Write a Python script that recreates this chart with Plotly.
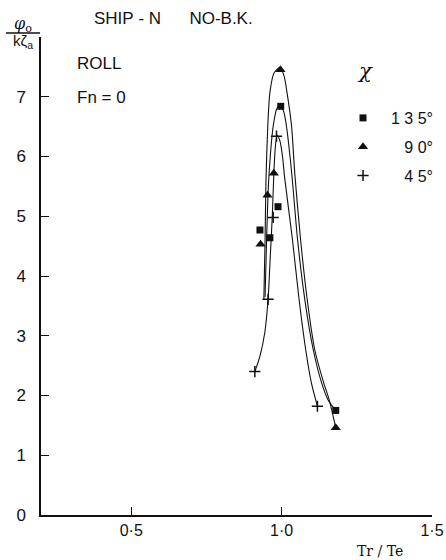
import plotly.graph_objects as go

# Measured response points: tuning factor Tr/Te vs non-dimensional roll amplitude
chi_labels = ["135°", "90°", "45°"]

x_135 = [0.928, 0.961, 0.988, 0.997, 1.180]
y_135 = [4.77, 4.64, 5.16, 6.84, 1.75]

x_90 = [0.930, 0.953, 0.974, 0.996, 1.180]
y_90 = [4.53, 5.35, 5.72, 7.45, 1.46]

x_45 = [0.911, 0.955, 0.972, 0.983, 1.119]
y_45 = [2.40, 3.61, 4.98, 6.34, 1.82]

# Faired curves drawn through the data (knots)
fair_x_135 = [0.945, 0.950, 0.956, 0.963, 0.972, 0.984, 0.996, 1.007, 1.016, 1.034, 1.053,
              1.077, 1.105, 1.133, 1.154, 1.180]
fair_y_135 = [3.65, 4.60, 5.50, 6.05, 6.51, 6.80, 6.86, 6.75, 6.51, 5.70, 4.61,
              3.61, 2.77, 2.21, 1.93, 1.75]

fair_x_90 = [0.941, 0.945, 0.948, 0.954, 0.961, 0.975, 0.994, 1.008, 1.018, 1.033, 1.044,
             1.063, 1.085, 1.110, 1.140, 1.158, 1.180]
fair_y_90 = [3.61, 4.60, 5.60, 6.51, 7.07, 7.40, 7.49, 7.35, 7.07, 6.51, 5.70,
             4.61, 3.61, 2.77, 2.21, 1.93, 1.46]

fair_x_45 = [0.911, 0.928, 0.944, 0.955, 0.963, 0.969, 0.974, 0.979, 0.985, 0.995, 1.003,
             1.010, 1.036, 1.058, 1.080, 1.099, 1.119]
fair_y_45 = [2.40, 2.66, 3.05, 3.61, 4.40, 5.00, 5.70, 6.15, 6.36, 6.25, 6.00,
             5.65, 4.61, 3.61, 2.77, 2.21, 1.82]

x_ticks = [0.5, 1.0, 1.5]
x_tick_text = ["0·5", "1·0", "1·5"]
y_ticks = [0, 1, 2, 3, 4, 5, 6, 7, 8]
y_tick_text = ["0", "1", "2", "3", "4", "5", "6", "7", ""]

FONT = "Liberation Sans"
INK = "#111111"

W, H = 446, 560
L, R, T, B = 41, 14, 37, 45
PW, PH = W - L - R, H - T - B


def px(xp):
    """page pixel column -> paper x"""
    return (xp - L) / PW


def py(yp):
    """page pixel row -> paper y"""
    return (H - B - yp) / PH


fig = go.Figure()

for fx, fy in [(fair_x_90, fair_y_90), (fair_x_135, fair_y_135), (fair_x_45, fair_y_45)]:
    fig.add_trace(go.Scatter(
        x=fx, y=fy, mode="lines",
        line=dict(color=INK, width=1.1, shape="spline", smoothing=0.7),
        showlegend=False, hoverinfo="skip",
    ))

legend_text = ["1 3 5°", "\u2007\u00a09 0°", "\u2007\u00a04 5°"]
series = [
    (x_135, y_135, dict(symbol="square", size=7, color=INK)),
    (x_90, y_90, dict(symbol="triangle-up", size=9, color=INK)),
    (x_45, y_45, dict(symbol="cross-thin", size=8, color=INK, line=dict(color=INK, width=1.5))),
]
for i, (sx, sy, mk) in enumerate(series):
    fig.add_trace(go.Scatter(
        x=sx, y=sy, mode="markers", marker=mk,
        name=legend_text[i], legendgroup=chi_labels[i],
    ))

text_font = dict(family=FONT, size=17, color=INK)
annotations = [
    dict(x=92, y=19, text="SHIP\u00a0-\u00a0N\u00a0\u00a0\u00a0\u00a0\u00a0\u00a0NO-B.K.", xanchor="left"),
    dict(x=75, y=64, text="ROLL", xanchor="left"),
    dict(x=75, y=97, text="Fn = 0", xanchor="left"),
    dict(x=380, y=551, text="Tr / Te", xanchor="center",
         font=dict(family="DejaVu Serif", size=14, color=INK)),
    dict(x=365, y=71, text="<i>χ</i>", xanchor="center",
         font=dict(family="DejaVu Serif", size=21, color=INK)),
    dict(x=23, y=24, text="<i>φ</i><sub>o</sub>", xanchor="center",
         font=dict(family="DejaVu Serif", size=16, color=INK)),
    dict(x=23, y=41, text="kζ<sub>a</sub>", xanchor="center",
         font=dict(family=FONT, size=15, color=INK)),
]
for a in annotations:
    fig.add_annotation(
        x=px(a["x"]), y=py(a["y"]), xref="paper", yref="paper",
        xanchor=a["xanchor"], yanchor="middle", showarrow=False,
        text=a["text"], font=a.get("font", text_font),
    )
# fraction bar of the y-axis label
fig.add_shape(type="line", xref="paper", yref="paper",
              x0=px(6), x1=px(40), y0=py(33), y1=py(33),
              line=dict(color=INK, width=1.3))

fig.update_layout(
    width=W, height=H,
    margin=dict(l=L, r=R, t=T, b=B, autoexpand=False),
    paper_bgcolor="white", plot_bgcolor="white",
    font=dict(family=FONT, size=17, color=INK),
    showlegend=True,
    legend=dict(xref="container", yref="container",
                x=335 / W, y=1 - 101 / H, xanchor="left", yanchor="top",
                font=dict(family=FONT, size=16, color=INK),
                itemwidth=46, tracegroupgap=5, bgcolor="rgba(0,0,0,0)"),
    xaxis=dict(range=[0.2, 1.5], tickvals=x_ticks, ticktext=x_tick_text,
               ticks="inside", ticklen=8, tickwidth=1.3, tickcolor=INK,
               showline=True, linecolor=INK, linewidth=1.5, showgrid=False,
               zeroline=False, automargin=False,
               tickfont=dict(family=FONT, size=16, color=INK)),
    yaxis=dict(range=[0, 8], tickvals=y_ticks, ticktext=y_tick_text,
               ticks="inside", ticklen=8, tickwidth=1.3, tickcolor=INK,
               showline=True, linecolor=INK, linewidth=1.5, showgrid=False,
               zeroline=False, automargin=False, ticklabelstandoff=10,
               tickfont=dict(family=FONT, size=17, color=INK)),
)

fig.write_html("out.html")
